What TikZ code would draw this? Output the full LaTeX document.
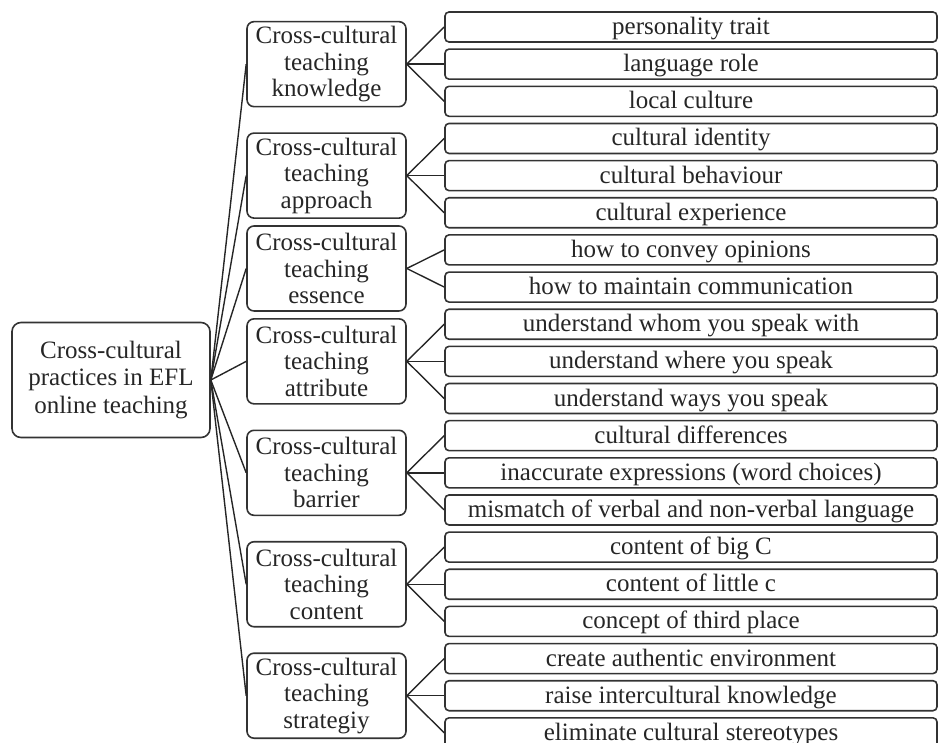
\documentclass[tikz,border=0pt]{standalone}
\usepackage{fontspec}
\setmainfont{Liberation Serif}
\begin{document}
\begin{tikzpicture}[x=1pt,y=-1pt,
  box/.style={draw=black!80, line width=1.6pt, rounded corners=7pt, align=center, inner sep=0pt, text=black!85},
  rootbox/.style={box, rounded corners=9pt, minimum width=198pt, minimum height=115pt, font=\fontsize{25}{27.5}\selectfont},
  midbox/.style={box, minimum width=159pt, minimum height=85pt, font=\fontsize{25}{26.5}\selectfont},
  leafbox/.style={box, rounded corners=4pt, minimum width=492pt, minimum height=30pt, text height=17pt, text depth=2pt, font=\fontsize{25}{26}\selectfont},
  link/.style={draw=black!85, line width=1.4pt}]
\useasboundingbox (0,0) rectangle (939,742);
\node[rootbox] (root) at (111,380) {Cross-cultural\\practices in EFL\\online teaching};
\foreach \t [count=\i] in {personality trait, language role, local culture,
  cultural identity, cultural behaviour, cultural experience,
  how to convey opinions, how to maintain communication,
  understand whom you speak with, understand where you speak, understand ways you speak,
  cultural differences, inaccurate expressions (word choices), mismatch of verbal and non-verbal language,
  content of big C, content of little c, concept of third place,
  create authentic environment, raise intercultural knowledge, eliminate cultural stereotypes}
  \node[leafbox] (l\i) at (691, {27+37.15*(\i-1)}) {\t};
\foreach \t/\a/\b [count=\i] in {knowledge/1/3, approach/4/6, essence/7/8, attribute/9/11, barrier/12/14, content/15/17, strategiy/18/20}
{
  \node[midbox] (m\i) at (326.5, {27+37.15*((\a+\b)/2-1)}) {Cross-cultural\\teaching\\\t};
  \draw[link] (root.east) -- (m\i.west);
  \foreach \j in {\a,...,\b} \draw[link] (m\i.east) -- (l\j.west);
}
\end{tikzpicture}
\end{document}
